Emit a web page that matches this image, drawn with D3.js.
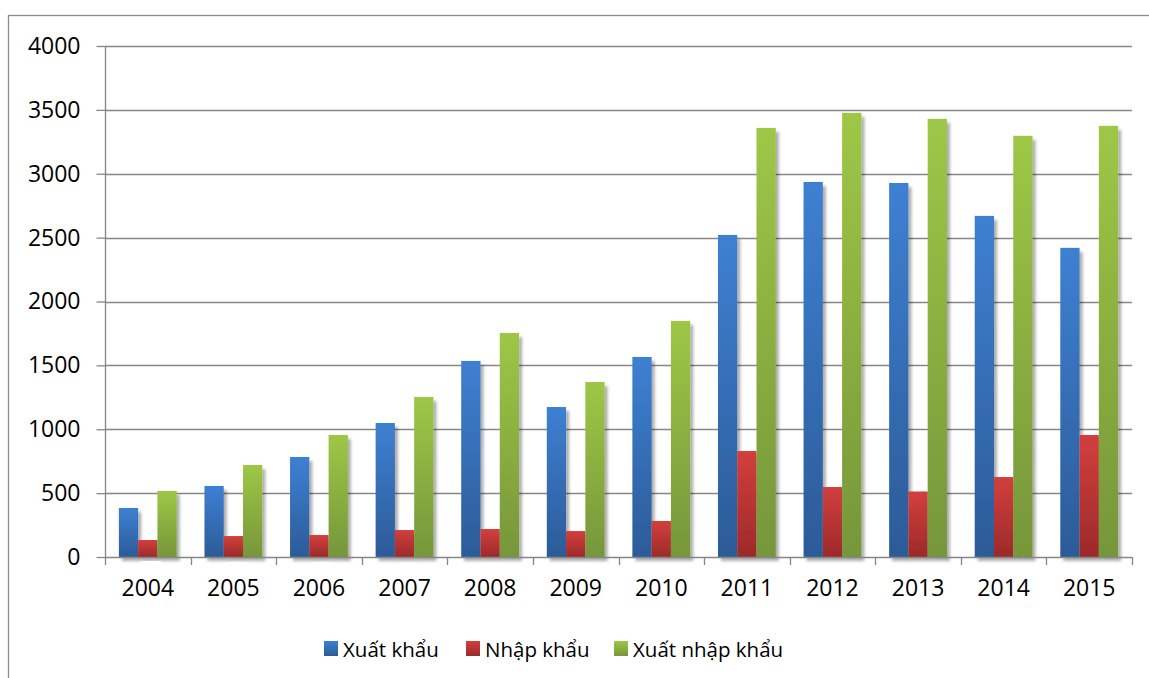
<!DOCTYPE html>
<html><head><meta charset="utf-8">
<script src="https://cdn.jsdelivr.net/npm/d3@7"></script>
<style>
html,body{margin:0;padding:0;background:#fff;}
svg{display:block;}
text{font-family:"Open Sans","Noto Sans",sans-serif;fill:#000;}
</style></head>
<body>
<svg id="chart" width="1149" height="678"></svg>
<script>
const categories = ["2004","2005","2006","2007","2008","2009","2010","2011","2012","2013","2014","2015"];
const seriesNames = ["Xuất khẩu","Nhập khẩu","Xuất nhập khẩu"];
const xuatKhau = [384,556,783,1049,1535,1174,1566,2521,2936,2928,2670,2420];
const nhapKhau = [133,164,172,211,219,203,282,830,548,513,626,955];
const xuatNhapKhau = [517,720,955,1253,1754,1370,1848,3359,3477,3430,3297,3375];
const yTicks = [0,500,1000,1500,2000,2500,3000,3500,4000];
const seriesColors = [["#3e80d2","#2c5b98"],["#d33f3d","#9c2a2a"],["#9ec746","#76963a"]];

const svg = d3.select("#chart");
const pLeft = 105, pRight = 1132, pTop = 46, pBottom = 557;

const defs = svg.append("defs");
seriesColors.forEach((c,i)=>{
  const g = defs.append("linearGradient").attr("id","grad"+i).attr("x1",0).attr("y1",0).attr("x2",0).attr("y2",1);
  g.append("stop").attr("offset","0%").attr("stop-color",c[0]);
  g.append("stop").attr("offset","100%").attr("stop-color",c[1]);
});
const f = defs.append("filter").attr("id","shadow").attr("x","-30%").attr("y","-10%").attr("width","170%").attr("height","130%");
f.append("feDropShadow").attr("dx",3).attr("dy",4).attr("stdDeviation",1.6).attr("flood-color","#000").attr("flood-opacity",0.32);

// outer border
svg.append("rect").attr("x",8.5).attr("y",15.5).attr("width",1200).attr("height",700)
  .attr("fill","none").attr("stroke","#8c8c8c").attr("stroke-width",1.3);

const x = d3.scaleBand().domain(categories).range([pLeft,pRight]).paddingInner(0).paddingOuter(0);
const y = d3.scaleLinear().domain([0,4000]).range([pBottom,pTop]);

// gridlines
svg.append("g").selectAll("line").data(yTicks.filter(d=>d>0)).join("line")
  .attr("x1",pLeft).attr("x2",pRight).attr("y1",d=>Math.round(y(d))+0.5).attr("y2",d=>Math.round(y(d))+0.5)
  .attr("stroke","#868686").attr("stroke-width",1.3);

// bars
const inner = d3.scaleBand().domain([0,1,2]).range([0,x.bandwidth()]).paddingInner(0).paddingOuter(0.72);
const allSeries = [xuatKhau,nhapKhau,xuatNhapKhau];
allSeries.forEach((vals,si)=>{
  svg.append("g").selectAll("rect").data(vals).join("rect")
    .attr("x",(d,i)=>x(categories[i])+inner(si))
    .attr("width",inner.bandwidth())
    .attr("y",d=>y(d))
    .attr("height",d=>y(0)-y(d))
    .attr("fill","url(#grad"+si+")")
    .attr("filter","url(#shadow)");
});

// y axis
const yAxis = svg.append("g").attr("transform",`translate(${pLeft+0.5},0)`)
  .call(d3.axisLeft(y).tickValues(yTicks).tickSize(9).tickPadding(16).tickFormat(d3.format("d")));
yAxis.select(".domain").attr("stroke","#868686").attr("stroke-width",1.3).attr("d",`M0,${pBottom}V${pTop}`);
yAxis.selectAll(".tick line").attr("stroke","#868686").attr("stroke-width",1.3);
yAxis.selectAll("text").style("font-size","23px").attr("font-family",null).attr("fill","#000");

// x axis
const xAxis = svg.append("g").attr("transform",`translate(0,${pBottom+0.5})`)
  .call(d3.axisBottom(x).tickSize(0).tickPadding(22));
xAxis.select(".domain").attr("stroke","#868686").attr("stroke-width",1.3).attr("d",`M${pLeft},0H${pRight}`);
xAxis.selectAll("text").style("font-size","23px").attr("font-family",null).attr("fill","#000");
const bounds = categories.map(c=>x(c)).concat([pRight]);
svg.append("g").selectAll("line").data(bounds).join("line")
  .attr("x1",d=>Math.round(d)+0.5).attr("x2",d=>Math.round(d)+0.5).attr("y1",pBottom).attr("y2",pBottom+8)
  .attr("stroke","#868686").attr("stroke-width",1.3);

// legend
const legendX = [324,466,614];
const lg = svg.append("g");
seriesNames.forEach((n,i)=>{
  lg.append("rect").attr("x",legendX[i]).attr("y",641).attr("width",14).attr("height",15).attr("fill","url(#grad"+i+")");
  lg.append("text").attr("x",legendX[i]+19).attr("y",657).style("font-size","20.5px").text(n);
});
</script>
</body></html>
